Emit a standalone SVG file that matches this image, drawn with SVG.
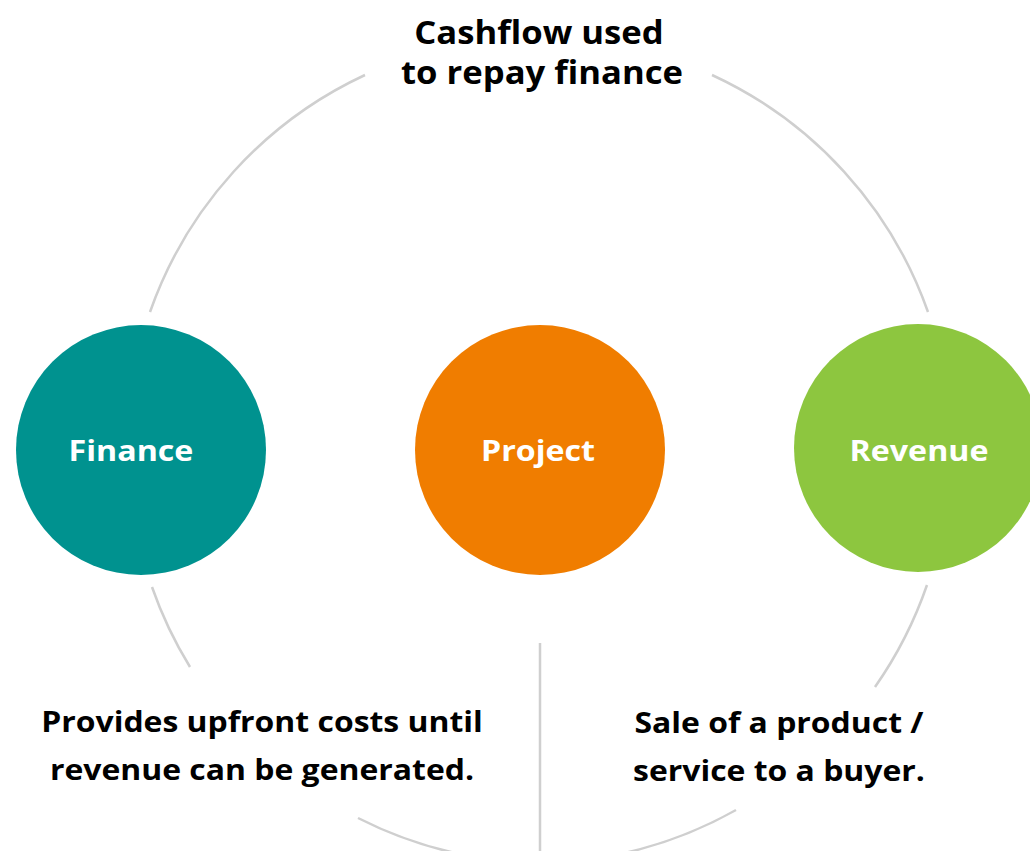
<svg xmlns="http://www.w3.org/2000/svg" width="1030" height="851" viewBox="0 0 1030 851">
<style>
.c{fill:none;stroke:#cfcfcf;stroke-width:2.5}
.t{font-family:"Open Sans","Liberation Sans",sans-serif;font-weight:bold;text-anchor:middle}
.lbl{fill:#ffffff;font-size:28px}
.cap{fill:#000000;font-size:28px}
.ttl{fill:#000000;font-size:32px}
</style>
<rect width="1030" height="851" fill="#ffffff"/>
<g id="connectors">
<path class="c" d="M365,75 A412,412 0 0,0 150,312"/>
<path class="c" d="M712,75 A412,412 0 0,1 928,312"/>
<path class="c" d="M152,587 A412,412 0 0,0 190,667"/>
<path class="c" d="M927,585 A412,412 0 0,1 875,687"/>
<path class="c" d="M358,818 A412,412 0 0,0 470,856"/>
<path class="c" d="M736,810 A412,412 0 0,1 610,856"/>
<line class="c" x1="540" y1="643" x2="540" y2="851"/>
</g>
<g id="title">
<text class="t ttl" transform="translate(539,0) scale(1.083,1)" x="0" y="44">Cashflow used</text>
<text class="t ttl" transform="translate(542,0) scale(1.083,1)" x="0" y="84">to repay finance</text>
</g>
<g id="finance">
<circle cx="141" cy="450" r="125" fill="#00928F"/>
<text class="t lbl" transform="translate(131,0) scale(1.15,1)" x="0" y="461">Finance</text>
</g>
<g id="project">
<circle cx="540" cy="450" r="125" fill="#F07D00"/>
<text class="t lbl" transform="translate(538,0) scale(1.15,1)" x="0" y="461">Project</text>
</g>
<g id="revenue">
<circle cx="918" cy="448" r="124" fill="#8DC63F"/>
<text class="t lbl" transform="translate(919,0) scale(1.15,1)" x="0" y="461">Revenue</text>
</g>
<g id="finance-note">
<text class="t cap" transform="translate(262,0) scale(1.14,1)" x="0" y="732">Provides upfront costs until</text>
<text class="t cap" transform="translate(262,0) scale(1.14,1)" x="0" y="780">revenue can be generated.</text>
</g>
<g id="revenue-note">
<text class="t cap" transform="translate(779,0) scale(1.14,1)" x="0" y="733">Sale of a product /</text>
<text class="t cap" transform="translate(779,0) scale(1.14,1)" x="0" y="781">service to a buyer.</text>
</g>
</svg>
